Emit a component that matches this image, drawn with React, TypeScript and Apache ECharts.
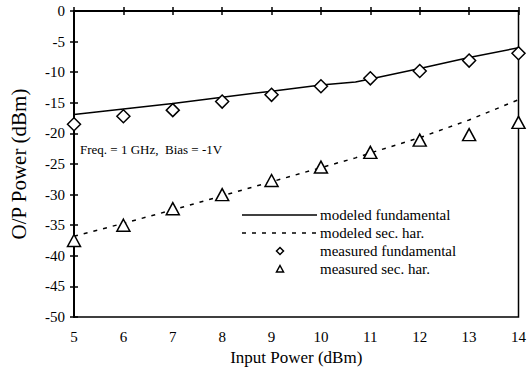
import React, { useEffect, useRef } from "react";
import * as echarts from "echarts";

const inputPower = [5, 6, 7, 8, 9, 10, 11, 12, 13, 14];
const measuredFund = [-18.5, -17.2, -16.2, -14.8, -13.7, -12.3, -11.0, -9.8, -8.1, -6.9];
const measuredSec = [-37.5, -35.0, -32.3, -30.0, -27.7, -25.5, -23.1, -21.1, -20.2, -18.2];
const modelX = [5, 6, 7, 8, 9, 10, 10.7, 11, 12, 13, 14];
const modelFund = [-16.9, -16.0, -15.1, -14.1, -13.1, -12.1, -11.6, -11.1, -9.4, -7.6, -6.0];
const modelSec = [-36.8, -34.7, -32.5, -30.2, -27.9, -25.6, -24.0, -23.2, -20.7, -17.8, -14.5];

const legendLabels = ["modeled fundamental", "modeled sec. har.", "measured fundamental", "measured sec. har."];
const annotation = "Freq. = 1 GHz,  Bias = -1V";

const FONT = "Liberation Serif";

const zip = (xs: number[], ys: number[]) => xs.map((x, i) => [x, ys[i]]);

export default function App() {
  const ref = useRef<HTMLDivElement>(null);
  useEffect(() => {
    const chart = echarts.init(ref.current!, null, { renderer: "svg" });
    const lx1 = 242, lx2 = 317, tx = 320, ly0 = 215, dy = 18;
    const textEl = (t: string, y: number) => ({
      type: "text",
      style: { text: t, x: tx, y, fontFamily: FONT, fontSize: 15, fill: "#000", verticalAlign: "middle" },
      z: 10,
    });
    chart.setOption({
      animation: false,
      backgroundColor: "#fff",
      textStyle: { fontFamily: FONT },
      grid: {
        left: 73,
        right: 5,
        top: 11,
        bottom: 54,
        show: true,
        borderColor: "#000",
        borderWidth: 1.5,
        backgroundColor: "transparent",
      },
      xAxis: [
        {
          type: "value",
          min: 5,
          max: 14,
          interval: 1,
          name: "Input Power (dBm)",
          nameLocation: "middle",
          nameGap: 30,
          nameTextStyle: { fontFamily: FONT, fontSize: 17, color: "#000" },
          axisLine: { show: true, lineStyle: { color: "#000", width: 2 } },
          axisTick: { show: true, inside: false, length: 4, lineStyle: { color: "#000", width: 1.5 } },
          axisLabel: { fontFamily: FONT, fontSize: 15, color: "#000", margin: 12 },
          splitLine: { show: false },
        },
        {
          type: "value",
          position: "bottom",
          min: 5,
          max: 14,
          interval: 1,
          axisLine: { show: false },
          axisTick: { show: true, inside: true, length: 4, lineStyle: { color: "#000", width: 1.5 } },
          axisLabel: { show: false },
          splitLine: { show: false },
        },
      ],
      yAxis: [
        {
          type: "value",
          min: -50,
          max: 0,
          interval: 5,
          name: "O/P Power (dBm)",
          nameLocation: "middle",
          nameGap: 45,
          nameTextStyle: { fontFamily: FONT, fontSize: 21, color: "#000" },
          axisLine: { show: true, lineStyle: { color: "#000", width: 2 } },
          axisTick: { show: true, inside: false, length: 4, lineStyle: { color: "#000", width: 1.5 } },
          axisLabel: { fontFamily: FONT, fontSize: 15, color: "#000", margin: 9 },
          splitLine: { show: false },
        },
        {
          type: "value",
          position: "left",
          min: -50,
          max: 0,
          interval: 5,
          axisLine: { show: false },
          axisTick: { show: true, inside: true, length: 4, lineStyle: { color: "#000", width: 1.5 } },
          axisLabel: { show: false },
          splitLine: { show: false },
        },
      ],
      series: [
        {
          name: legendLabels[0],
          type: "line",
          data: zip(modelX, modelFund),
          showSymbol: false,
          symbol: "none",
          lineStyle: { color: "#000", width: 1.5 },
          z: 2,
        },
        {
          name: legendLabels[1],
          type: "line",
          data: zip(modelX, modelSec),
          showSymbol: false,
          symbol: "none",
          lineStyle: { color: "#000", width: 1.5, type: [4, 6] },
          z: 2,
        },
        {
          name: legendLabels[2],
          type: "scatter",
          data: zip(inputPower, measuredFund),
          symbol: "diamond",
          symbolSize: [13, 13],
          itemStyle: { color: "#fff", borderColor: "#000", borderWidth: 1.5, opacity: 1 },
          z: 5,
        },
        {
          name: legendLabels[3],
          type: "scatter",
          data: zip(inputPower, measuredSec),
          symbol: "triangle",
          symbolSize: [13, 12],
          itemStyle: { color: "#fff", borderColor: "#000", borderWidth: 1.5, opacity: 1 },
          z: 5,
        },
      ],
      graphic: [
        {
          type: "text",
          style: { text: annotation, x: 80, y: 149, fontFamily: FONT, fontSize: 13, fill: "#000", verticalAlign: "middle" },
          z: 10,
        },
        {
          type: "line",
          shape: { x1: lx1, y1: ly0, x2: lx2, y2: ly0 },
          style: { stroke: "#000", lineWidth: 1.5 },
          z: 10,
        },
        textEl(legendLabels[0], ly0),
        {
          type: "line",
          shape: { x1: lx1, y1: ly0 + dy, x2: lx2, y2: ly0 + dy },
          style: { stroke: "#000", lineWidth: 1.5, lineDash: [4, 6] },
          z: 10,
        },
        textEl(legendLabels[1], ly0 + dy),
        {
          type: "polygon",
          shape: { points: [[280, ly0 + 2 * dy - 3.5], [283.5, ly0 + 2 * dy], [280, ly0 + 2 * dy + 3.5], [276.5, ly0 + 2 * dy]] },
          style: { fill: "#fff", stroke: "#000", lineWidth: 1.5 },
          z: 10,
        },
        textEl(legendLabels[2], ly0 + 2 * dy),
        {
          type: "polygon",
          shape: { points: [[280, ly0 + 3 * dy - 3.5], [283.5, ly0 + 3 * dy + 3], [276.5, ly0 + 3 * dy + 3]] },
          style: { fill: "#fff", stroke: "#000", lineWidth: 1.5 },
          z: 10,
        },
        textEl(legendLabels[3], ly0 + 3 * dy),
      ],
    });
    return () => chart.dispose();
  }, []);
  return <div ref={ref} style={{ position: "fixed", left: 0, top: 0, width: 529, height: 371 }} />;
}
